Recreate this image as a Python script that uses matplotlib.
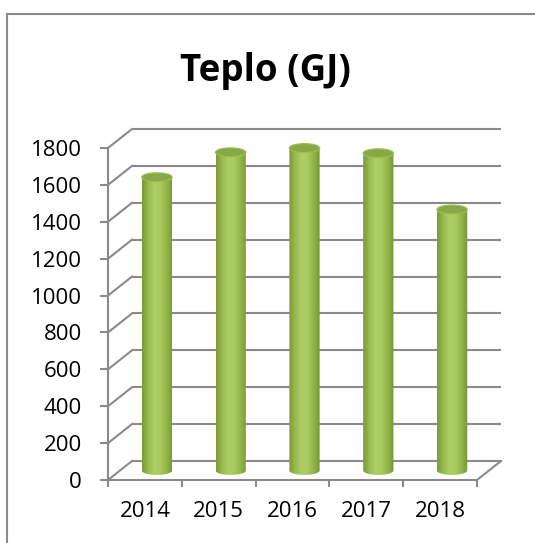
import numpy as np
import matplotlib
matplotlib.use("Agg")
import matplotlib.pyplot as plt
from matplotlib.patches import Ellipse, PathPatch
from matplotlib.path import Path
from matplotlib.lines import Line2D
from matplotlib.colors import LinearSegmentedColormap

years = ["2014", "2015", "2016", "2017", "2018"]
values = [1590, 1725, 1748, 1720, 1415]
yticks = [0, 200, 400, 600, 800, 1000, 1200, 1400, 1600, 1800]
title = "Teplo (GJ)"

W, H = 535, 543
fig = plt.figure(figsize=(W / 100, H / 100), dpi=100)
ax = fig.add_axes([108 / W, 1 - 480 / H, 369 / W, 332 / H])
ax.set_xlim(-0.5, 4.5)
ax.set_ylim(0, 1800)

grid_c = "#8a8a8a"
lw = 1.5
# depth offset in data units
DX = 24 / 73.8
DY = 103

# back wall gridlines + left wall diagonals
for t in yticks:
    ax.plot([-0.5 + DX, 4.5 + DX], [t + DY, t + DY], color=grid_c, lw=lw,
            clip_on=False, zorder=1, solid_capstyle="butt")
    ax.plot([-0.5, -0.5 + DX], [t, t + DY], color=grid_c, lw=lw,
            clip_on=False, zorder=1)
# floor right diagonal
ax.plot([4.5, 4.5 + DX], [0, DY], color=grid_c, lw=lw, clip_on=False, zorder=1)

# cylinders
cmap = LinearSegmentedColormap.from_list(
    "cyl", ["#7a9a34", "#98ba4e", "#aecf66", "#a8ca5e", "#93b44a", "#779733"])
grad = np.linspace(0, 1, 200).reshape(1, -1)
bw = 0.41
eh = 48
for i, v in enumerate(values):
    cx = i + DX / 2
    by = DY / 2
    x0, x1 = cx - bw / 2, cx + bw / 2
    th = np.linspace(np.pi, 2 * np.pi, 60)
    bx = cx + bw / 2 * np.cos(th)
    byy = by + eh / 2 * np.sin(th)
    verts = [(x0, by + v)] + list(zip(bx, byy)) + [(x1, by + v), (x0, by + v)]
    path = Path(verts, closed=True)
    clip = PathPatch(path, transform=ax.transData)
    im = ax.imshow(grad, cmap=cmap, aspect="auto",
                   extent=[x0, x1, by - eh, by + v], zorder=3,
                   interpolation="bilinear")
    im.set_clip_path(clip)
    im.set_clip_box(None)
    top = Ellipse((cx, by + v), bw, eh, facecolor="#88a843",
                  edgecolor="#9dbd55", lw=0.9, zorder=4, clip_on=False)
    ax.add_patch(top)

ax.set_xlim(-0.5, 4.5)
ax.set_ylim(0, 1800)

# axes styling
for s in ["top", "right"]:
    ax.spines[s].set_visible(False)
for s in ["left", "bottom"]:
    ax.spines[s].set_color(grid_c)
    ax.spines[s].set_linewidth(lw)
ax.set_facecolor("none")

font = "Open Sans"
ax.set_yticks(yticks)
ax.set_yticklabels([str(t) for t in yticks], fontsize=16, family=font)
ax.tick_params(axis="y", direction="out", length=5.8, width=lw, color=grid_c,
               pad=13, labelcolor="black")
ax.set_xticks(range(len(years)))
ax.set_xticklabels(years, fontsize=16, family=font)
ax.set_xticks(np.arange(-0.5, 5, 1.0), minor=True)
ax.tick_params(axis="x", which="major", length=0, pad=15)
ax.tick_params(axis="x", which="minor", direction="out", length=5, width=lw,
               color=grid_c)

fig.text(265 / W, 1 - 71 / H, title, ha="center", va="center",
         fontsize=26.5, fontweight="bold", family=font)

# outer chart border
fig.add_artist(Line2D([7 / W, 7 / W], [-0.1, 1 - 14 / H], color="#8a8a8a",
                      lw=1.5, transform=fig.transFigure))
fig.add_artist(Line2D([7 / W, 1.1], [1 - 14 / H, 1 - 14 / H], color="#8a8a8a",
                      lw=1.5, transform=fig.transFigure))

fig.savefig("out.png", dpi=100)
